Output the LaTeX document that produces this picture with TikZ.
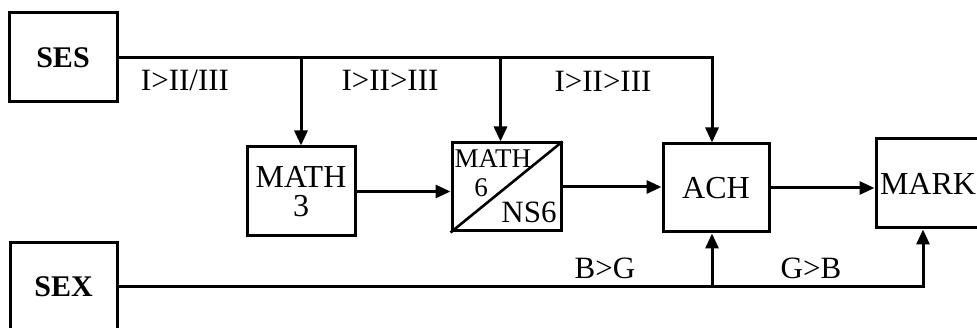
\documentclass[tikz,border=0pt]{standalone}
\usepackage{fontspec}
\setmainfont{Liberation Serif}
\usetikzlibrary{arrows.meta}
\begin{document}
\begin{tikzpicture}[x=1pt,y=-1pt,line width=3pt,
  box/.style={draw,line width=3pt,inner sep=0pt,font=\fontsize{32}{33}\selectfont},
  lab/.style={inner sep=0pt,font=\fontsize{31}{32}\selectfont},
  arr/.style={-{Triangle[length=15pt,width=13pt]}}]
\useasboundingbox (0,0) rectangle (977,328);
\clip (0,0) rectangle (977,328);
% boxes
\node[box,minimum width=108pt,minimum height=89pt,font=\fontsize{30}{31}\selectfont] (SES) at (63,57.5) {\bfseries SES};
\node[box,minimum width=107pt,minimum height=88pt,font=\fontsize{30}{31}\selectfont] (SEX) at (63.5,287) {\bfseries SEX};
\node[box,minimum width=108pt,minimum height=89pt,align=center] (M3) at (301,191.5) {MATH\\[-4pt]3};
\node[box,minimum width=109pt,minimum height=88pt] (M6) at (506.5,187) {};
\node[box,minimum width=106pt,minimum height=88pt] (ACH) at (716,188) {ACH};
\node[box,minimum width=104pt,minimum height=89pt] (MARK) at (928,183.5) {MARK};
% split box contents
\draw[line width=2.6pt] (M6.south west) -- (M6.north east);
\node[inner sep=0pt,font=\fontsize{27}{28}\selectfont,anchor=north west] (m6a) at (453,148) {MATH};
\node[inner sep=0pt,font=\fontsize{27}{28}\selectfont] (m6b) at (481,188) {6};
\node[inner sep=0pt,font=\fontsize{31}{32}\selectfont] (m6c) at (529,212) {NS6};
% labels
\node[lab] (l1) at (185,80) {I>II/III};
\node[lab] (l2) at (390,80) {I>II>III};
\node[lab] (l3) at (603,81) {I>II>III};
\node[lab] (l4) at (605,268) {B>G};
\node[lab] (l5) at (811,268) {G>B};
% entry points
\coordinate (m6n) at ([xshift=-6pt]M6.north);
\coordinate (achn) at ([xshift=-4pt]ACH.north);
\coordinate (achs) at ([xshift=-4pt]ACH.south);
\coordinate (marks) at ([xshift=-5pt]MARK.south);
% connectors
\draw[arr] (SES.east) -| (achn);
\draw[arr] (SES.east -| M3.north) -- (M3.north);
\draw[arr] (SES.east -| m6n) -- (m6n);
\draw[arr] (M3.east) -- (M3.east -| M6.west);
\draw[arr] (M6.east) -- (M6.east -| ACH.west);
\draw[arr] (ACH.east) -- (ACH.east -| MARK.west);
\draw[arr] (SEX.east) -| (marks);
\draw[arr] (SEX.east -| achs) -- (achs);
\end{tikzpicture}
\end{document}
